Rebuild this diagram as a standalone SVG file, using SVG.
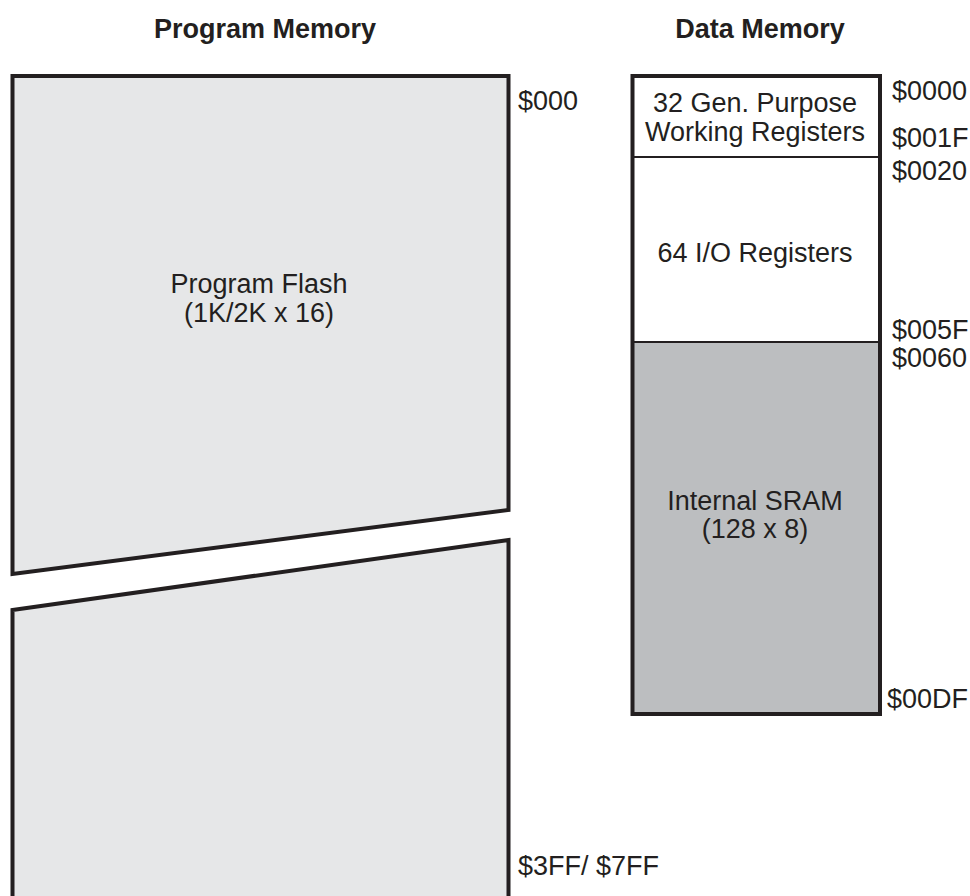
<svg xmlns="http://www.w3.org/2000/svg" width="970" height="896" viewBox="0 0 970 896">
<style>
text{font-family:"Liberation Sans",Arial,sans-serif;fill:#231f20;font-size:27px}
.t{font-weight:bold;text-anchor:middle}
.c{text-anchor:middle}
.box{stroke:#231f20;stroke-width:4;stroke-linejoin:miter}
.div{stroke:#231f20;stroke-width:2}
</style>
<rect width="970" height="896" fill="#fff"/>
<g id="titles">
<text class="t" x="265" y="38">Program Memory</text>
<text class="t" x="760" y="38">Data Memory</text>
</g>
<g id="program-flash">
<path class="box" d="M12.5,76 L508.5,76 L508.5,510 L12.5,574 Z" fill="#e6e7e8"/>
<path class="box" d="M12.5,900 L12.5,610 L508.5,540 L508.5,900" fill="#e6e7e8"/>
<text class="c" x="259" y="293">Program Flash</text>
<text class="c" x="259" y="322">(1K/2K x 16)</text>
<text x="518" y="110">$000</text>
<text x="518" y="875">$3FF/ $7FF</text>
</g>
<g id="data-memory">
<rect x="632.5" y="76" width="247.5" height="638" fill="#fff"/>
<rect x="632.5" y="342" width="247.5" height="372" fill="#bcbec0"/>
<line class="div" x1="632.5" y1="157" x2="880" y2="157"/>
<line class="div" x1="632.5" y1="342" x2="880" y2="342"/>
<rect class="box" x="632.5" y="76" width="247.5" height="638" fill="none"/>
<text class="c" x="755" y="112">32 Gen. Purpose</text>
<text class="c" x="755" y="141">Working Registers</text>
<text class="c" x="755" y="262">64 I/O Registers</text>
<text class="c" x="755" y="510">Internal SRAM</text>
<text class="c" x="755" y="538">(128 x 8)</text>
<text x="892" y="100">$0000</text>
<text x="892" y="147">$001F</text>
<text x="892" y="180">$0020</text>
<text x="892" y="339">$005F</text>
<text x="892" y="367">$0060</text>
<text x="887" y="708">$00DF</text>
</g>
</svg>
